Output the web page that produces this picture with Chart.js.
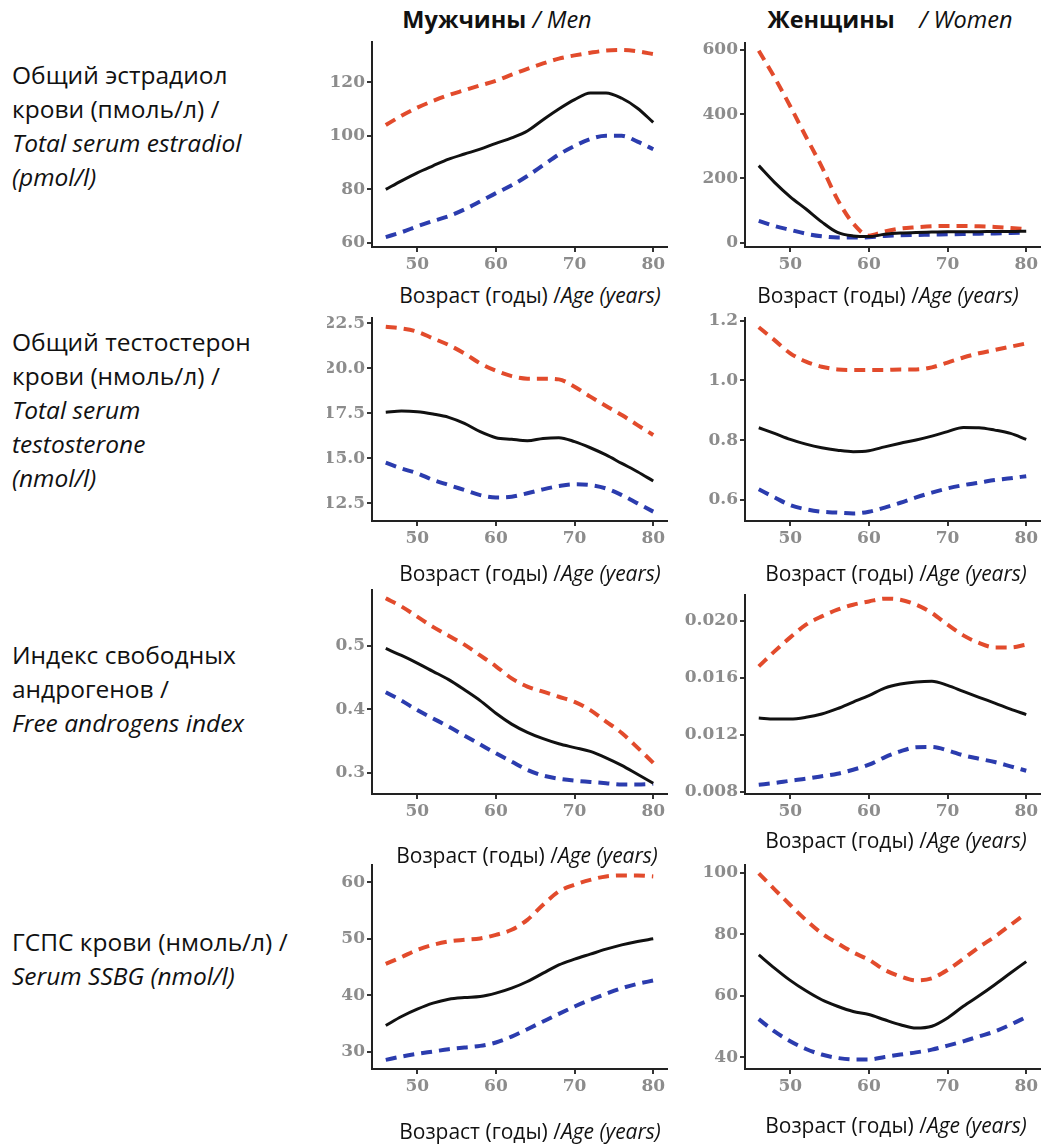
<!DOCTYPE html>
<html lang="ru">
<head>
<meta charset="utf-8">
<title>Гормоны по возрасту</title>
<script src="https://cdn.jsdelivr.net/npm/chart.js@4.4.1/dist/chart.umd.min.js"></script>
<style>
  body { margin: 0; background: #fff; width: 1043px; height: 1144px; position: relative; overflow: hidden;
         font-family: "Open Sans", "Noto Sans", sans-serif; color: #111; }
  canvas { position: absolute; }
  .rowlabel { position: absolute; left: 12px; font-size: 24.5px; line-height: 34px; white-space: nowrap; }
  .head { position: absolute; top: 3px; font-size: 23.5px; white-space: nowrap; transform: translateX(-50%); }
  .xtitle { position: absolute; font-size: 21px; white-space: nowrap; transform: translate(-50%, -50%); }
  i { font-style: italic; }
</style>
</head>
<body>
<div class="head" style="left:497px"><b>Мужчины</b> <i>/ Men</i></div>
<div class="head" style="left:890px"><b>Женщины</b> &nbsp; &nbsp;<i>/ Women</i></div>

<div class="rowlabel" style="top:58px">Общий эстрадиол<br>крови (пмоль/л) /<br><i>Total serum estradiol</i><br><i>(pmol/l)</i></div>
<div class="rowlabel" style="top:325px">Общий тестостерон<br>крови (нмоль/л) /<br><i>Total serum</i><br><i>testosterone</i><br><i>(nmol/l)</i></div>
<div class="rowlabel" style="top:638px">Индекс свободных<br>андрогенов /<br><i>Free androgens index</i></div>
<div class="rowlabel" style="top:925px">ГСПС крови (нмоль/л) /<br><i>Serum SSBG (nmol/l)</i></div>

<script>
// ages along x
const ages = [46, 48, 50, 52, 54, 56, 58, 60, 62, 64, 66, 68, 70, 72, 74, 76, 78, 80];
const ageTicks = [50, 60, 70, 80];

// estradiol, pmol/l
const menE2Mean = [80, 83.2, 86.2, 88.8, 91.3, 93.2, 95, 97.2, 99.2, 101.8, 106, 110, 113.5, 116, 116, 114, 110.3, 105];
const menE2High = [104, 107.5, 110.5, 113, 115.2, 117, 118.8, 120.5, 122.8, 125, 127, 128.8, 130, 131, 131.8, 132, 131.5, 130.5];
const menE2Low = [62.2, 64, 66.2, 68.2, 70, 72.5, 75.5, 78.6, 81.5, 85, 89, 93, 96.2, 98.8, 100, 100, 97.8, 95];
const menE2Ticks = [60, 80, 100, 120];
const womenE2Mean = [240, 188, 143, 105, 65, 32, 21, 19, 26, 30, 32, 33, 34, 34, 34, 35, 35, 36];
const womenE2High = [598, 515, 425, 330, 237, 135, 60, 22, 35, 44, 48, 51, 52, 52, 51, 49, 46, 42];
const womenE2Low = [68, 52, 40, 28, 20, 16, 16, 17, 21, 23, 24, 25, 26, 27, 28, 29, 30, 32];
const womenE2Ticks = [0, 200, 400, 600];

// testosterone, nmol/l
const menTMean = [17.56, 17.63, 17.59, 17.46, 17.28, 16.94, 16.48, 16.15, 16.06, 15.98, 16.11, 16.15, 15.93, 15.59, 15.19, 14.72, 14.26, 13.74];
const menTHigh = [22.31, 22.22, 22.04, 21.67, 21.3, 20.83, 20.28, 19.87, 19.57, 19.43, 19.43, 19.39, 18.98, 18.43, 17.91, 17.41, 16.85, 16.3];
const menTLow = [14.76, 14.44, 14.17, 13.8, 13.52, 13.24, 12.96, 12.83, 12.87, 13.06, 13.28, 13.46, 13.56, 13.52, 13.33, 12.96, 12.5, 12.04];
const menTTicks = [12.5, 15, 17.5, 20, 22.5];
const womenTMean = [0.842, 0.823, 0.803, 0.787, 0.775, 0.767, 0.762, 0.765, 0.778, 0.79, 0.801, 0.814, 0.829, 0.843, 0.842, 0.834, 0.823, 0.803];
const womenTHigh = [1.178, 1.135, 1.091, 1.063, 1.046, 1.037, 1.035, 1.035, 1.035, 1.037, 1.037, 1.044, 1.06, 1.077, 1.091, 1.102, 1.113, 1.124];
const womenTLow = [0.636, 0.609, 0.583, 0.569, 0.561, 0.558, 0.555, 0.561, 0.575, 0.591, 0.609, 0.625, 0.639, 0.65, 0.658, 0.667, 0.673, 0.68];
const womenTTicks = [0.6, 0.8, 1.0, 1.2];

// free androgen index
const menFaiMean = [0.496, 0.485, 0.473, 0.46, 0.447, 0.431, 0.414, 0.394, 0.377, 0.364, 0.354, 0.346, 0.34, 0.334, 0.324, 0.312, 0.298, 0.284];
const menFaiHigh = [0.575, 0.562, 0.546, 0.53, 0.516, 0.502, 0.485, 0.468, 0.449, 0.436, 0.428, 0.42, 0.412, 0.399, 0.381, 0.363, 0.34, 0.316];
const menFaiLow = [0.427, 0.414, 0.399, 0.386, 0.373, 0.359, 0.345, 0.331, 0.318, 0.305, 0.296, 0.291, 0.288, 0.286, 0.284, 0.282, 0.282, 0.283];
const menFaiTicks = [0.3, 0.4, 0.5];
const womenFaiMean = [0.01318, 0.01311, 0.01311, 0.01323, 0.01346, 0.01384, 0.0143, 0.01475, 0.01528, 0.01556, 0.0157, 0.01575, 0.01547, 0.01505, 0.01463, 0.01423, 0.01381, 0.01342];
const womenFaiHigh = [0.0168, 0.01785, 0.01883, 0.01972, 0.0203, 0.02077, 0.02112, 0.02135, 0.02154, 0.02147, 0.02112, 0.02054, 0.01972, 0.01897, 0.01844, 0.01813, 0.01813, 0.01832];
const womenFaiLow = [0.00851, 0.00863, 0.00879, 0.00893, 0.0091, 0.00928, 0.00956, 0.00991, 0.01043, 0.01085, 0.01113, 0.01115, 0.01092, 0.01057, 0.01033, 0.0101, 0.0098, 0.00949];
const womenFaiTicks = [0.008, 0.012, 0.016, 0.020];

// SHBG, nmol/l
const menShbgMean = [34.62, 36.21, 37.51, 38.58, 39.29, 39.59, 39.76, 40.36, 41.24, 42.43, 43.91, 45.38, 46.39, 47.28, 48.17, 48.93, 49.53, 50.0];
const menShbgHigh = [45.56, 46.75, 48.05, 48.93, 49.53, 49.82, 50.06, 50.71, 51.6, 53.37, 56.04, 58.4, 59.59, 60.47, 61.07, 61.24, 61.24, 61.07];
const menShbgLow = [28.52, 29.11, 29.59, 30.0, 30.41, 30.71, 31.0, 31.6, 32.66, 33.96, 35.33, 36.69, 37.99, 39.17, 40.24, 41.24, 42.01, 42.6];
const menShbgTicks = [30, 40, 50, 60];
const womenShbgMean = [73.3, 69.0, 65.0, 61.6, 58.7, 56.6, 54.9, 53.9, 52.2, 50.6, 49.5, 50.1, 52.8, 56.6, 60.0, 63.6, 67.4, 71.1];
const womenShbgHigh = [99.8, 94.6, 89.5, 84.6, 80.3, 77.1, 74.1, 71.7, 68.4, 66.3, 65.0, 65.7, 68.4, 72.0, 75.8, 79.2, 83.0, 86.8];
const womenShbgLow = [52.4, 48.4, 45.2, 42.7, 40.9, 39.8, 39.3, 39.3, 40.1, 40.9, 41.6, 42.5, 43.8, 45.2, 46.8, 48.4, 50.6, 53.1];
const womenShbgTicks = [40, 60, 80, 100];

const xTitle = "Возраст (годы) /<i>Age (years)</i>";

// plot areas on the page: [left, top, right, bottom], y range, label decimals
const panels = [
  { mean: menE2Mean, high: menE2High, low: menE2Low, ticks: menE2Ticks, dec: 0, yMin: 58.5, yMax: 135, area: [372, 42, 667, 247], yw: 45, title: [530, 295] },
  { mean: womenE2Mean, high: womenE2High, low: womenE2Low, ticks: womenE2Ticks, dec: 0, yMin: -13.4, yMax: 622, area: [745, 43, 1040, 247], yw: 60, title: [888, 295] },
  { mean: menTMean, high: menTHigh, low: menTLow, ticks: menTTicks, dec: 1, yMin: 11.52, yMax: 22.8, area: [372, 318, 667, 521], yw: 45, title: [530, 573] },
  { mean: womenTMean, high: womenTHigh, low: womenTLow, ticks: womenTTicks, dec: 1, yMin: 0.53, yMax: 1.209, area: [745, 318, 1040, 521], yw: 60, title: [896, 573] },
  { mean: menFaiMean, high: menFaiHigh, low: menFaiLow, ticks: menFaiTicks, dec: 1, yMin: 0.267, yMax: 0.588, area: [372, 590, 667, 794], yw: 45, title: [527, 855] },
  { mean: womenFaiMean, high: womenFaiHigh, low: womenFaiLow, ticks: womenFaiTicks, dec: 3, yMin: 0.00786, yMax: 0.0218, area: [745, 595, 1040, 794], yw: 60, title: [896, 840] },
  { mean: menShbgMean, high: menShbgHigh, low: menShbgLow, ticks: menShbgTicks, dec: 0, yMin: 26.9, yMax: 63.1, area: [372, 865, 667, 1069], yw: 45, title: [530, 1131] },
  { mean: womenShbgMean, high: womenShbgHigh, low: womenShbgLow, ticks: womenShbgTicks, dec: 0, yMin: 36.2, yMax: 102.5, area: [745, 865, 1040, 1069], yw: 60, title: [896, 1125] }
];

const red = "#e24b2c";
const blue = "#2b3cae";
const tickFont = { family: "DejaVu Serif", size: 17, weight: "bold" };

function series(vals, color, width, dash) {
  return {
    data: ages.map((a, i) => ({ x: a, y: vals[i] })),
    borderColor: color,
    borderWidth: width,
    borderDash: dash,
    pointRadius: 0,
    fill: false,
    cubicInterpolationMode: "monotone"
  };
}

function axisStyle() {
  return {
    grid: { drawOnChartArea: false, drawTicks: true, tickLength: 5, color: "#333", lineWidth: 2 },
    border: { display: true, color: "#222", width: 2 }
  };
}

function makePanel(p) {
  const padTop = 14, padRight = 24, xh = 32;
  const cv = document.createElement("canvas");
  cv.width = p.area[2] - p.area[0] + p.yw + padRight;
  cv.height = p.area[3] - p.area[1] + padTop + xh;
  cv.style.left = (p.area[0] - p.yw) + "px";
  cv.style.top = (p.area[1] - padTop) + "px";
  document.body.appendChild(cv);

  const t = document.createElement("div");
  t.className = "xtitle";
  t.style.left = p.title[0] + "px";
  t.style.top = p.title[1] + "px";
  t.innerHTML = xTitle;
  document.body.appendChild(t);

  new Chart(cv, {
    type: "line",
    data: {
      datasets: [
        series(p.mean, "#111", 3, []),
        series(p.high, red, 4, [11, 7]),
        series(p.low, blue, 4, [11, 7])
      ]
    },
    options: {
      responsive: false,
      animation: false,
      devicePixelRatio: 1,
      layout: { padding: { top: padTop, right: padRight, left: 0, bottom: 0 } },
      plugins: { legend: { display: false }, tooltip: { enabled: false } },
      scales: {
        x: Object.assign(axisStyle(), {
          type: "linear", min: 44.25, max: 81.75,
          afterFit: s => { s.height = xh; },
          afterBuildTicks: s => { s.ticks = ageTicks.map(v => ({ value: v })); },
          ticks: { color: "#8c8c8c", font: tickFont, padding: 2, autoSkip: false, maxRotation: 0, callback: v => String(v) }
        }),
        y: Object.assign(axisStyle(), {
          type: "linear", min: p.yMin, max: p.yMax,
          afterFit: s => { s.width = p.yw; },
          afterBuildTicks: s => { s.ticks = p.ticks.map(v => ({ value: v })); },
          ticks: { color: "#8c8c8c", font: tickFont, padding: 2, autoSkip: false, callback: v => v.toFixed(p.dec) }
        })
      }
    }
  });
}

panels.forEach(makePanel);
</script>
</body>
</html>
